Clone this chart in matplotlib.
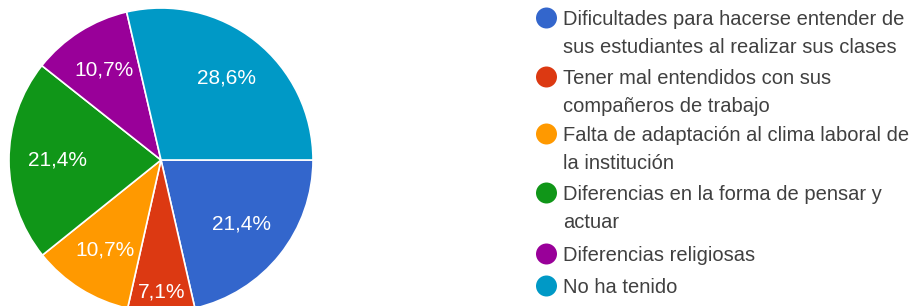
import numpy as np
import matplotlib.pyplot as plt
from matplotlib.patches import Circle

labels = [
    "Dificultades para hacerse entender de\nsus estudiantes al realizar sus clases",
    "Tener mal entendidos con sus\ncompañeros de trabajo",
    "Falta de adaptación al clima laboral de\nla institución",
    "Diferencias en la forma de pensar y\nactuar",
    "Diferencias religiosas",
    "No ha tenido",
]
values = [21.4, 7.1, 10.7, 21.4, 10.7, 28.6]
pct_labels = ["21,4%", "7,1%", "10,7%", "21,4%", "10,7%", "28,6%"]
colors = ["#3366CC", "#DC3912", "#FF9900", "#109618", "#990099", "#0099C6"]

plt.rcParams['font.family'] = ['Liberation Sans', 'DejaVu Sans']

W, H = 915, 306
fig = plt.figure(figsize=(W / 100, H / 100), dpi=100)

# pie axes, in pixel terms: center (161, 160), radius 152
r_px = 152
cx, cy = 161, 160
ax = fig.add_axes([(cx - r_px) / W, (H - cy - r_px) / H, 2 * r_px / W, 2 * r_px / H])
wedges, _ = ax.pie(values, colors=colors, startangle=0, counterclock=False,
                   radius=1.0, wedgeprops=dict(edgecolor="white", linewidth=1.2))
ax.set_xlim(-1, 1)
ax.set_ylim(-1, 1)
ax.set_aspect("equal")
ax.axis("off")

# percentage labels, narrow slice pushed outward
dists = [0.68, 0.87, 0.7, 0.68, 0.7, 0.69]
for w, txt, d in zip(wedges, pct_labels, dists):
    ang = np.deg2rad((w.theta1 + w.theta2) / 2)
    ax.text(d * np.cos(ang), d * np.sin(ang), txt, color="white",
            fontsize=15, ha="center", va="center")

# legend: one marker per entry, each text line placed separately
text_color = "#404040"
y_first = [18, 77, 134, 193, 254, 286]
line_gap = 28
for lab, col, y in zip(labels, colors, y_first):
    fig.patches.append(Circle((546.5, H - y), 10.5, transform=None,
                              facecolor=col, edgecolor="none"))
    for i, line in enumerate(lab.split("\n")):
        yb = y + i * line_gap + 7
        fig.text(563 / W, 1 - yb / H, line, color=text_color, fontsize=14.5,
                 ha="left", va="baseline")

fig.savefig("out.png", dpi=100)
